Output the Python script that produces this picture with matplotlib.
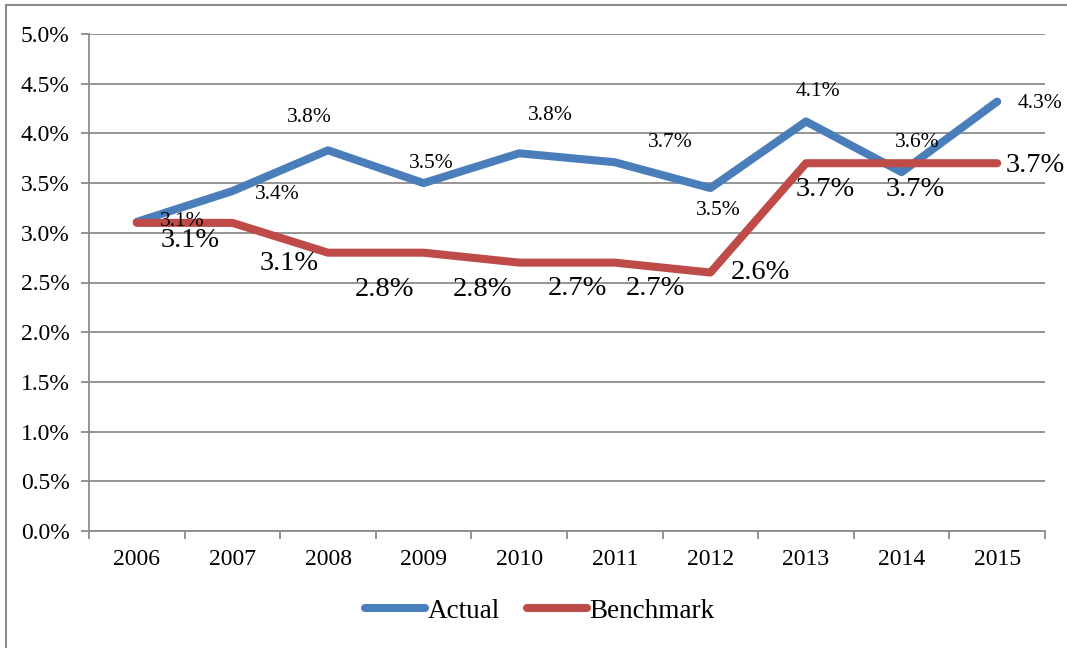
import matplotlib
matplotlib.use('Agg')
import matplotlib.pyplot as plt
from matplotlib.ticker import FuncFormatter, FixedLocator
from matplotlib.lines import Line2D
import numpy as np

years = ['2006', '2007', '2008', '2009', '2010', '2011', '2012', '2013', '2014', '2015']
actual = [3.11, 3.42, 3.83, 3.50, 3.80, 3.71, 3.45, 4.12, 3.61, 4.32]
benchmark = [3.1, 3.1, 2.8, 2.8, 2.7, 2.7, 2.6, 3.7, 3.7, 3.7]
actual_labels = ['3.1%', '3.4%', '3.8%', '3.5%', '3.8%', '3.7%', '3.5%', '4.1%', '3.6%', '4.3%']
bench_labels = ['3.1%', '3.1%', '2.8%', '2.8%', '2.7%', '2.7%', '2.6%', '3.7%', '3.7%', '3.7%']

# label offsets in pixels (dx, dy)
actual_off = [(45, 0), (45, -3), (-19, 33), (8, 20), (31, 38), (55, 20), (8, -22), (12, 30), (16, 30), (43, -2)]
bench_off = [(53, -18), (57, -41), (56, -37), (59, -37), (58, -26), (41, -26), (50, 0), (19, -26), (14, -26), (38, -2)]

plt.rcParams['font.family'] = ['Liberation Serif', 'DejaVu Serif']

blue = '#4a7ebb'
red = '#be4b48'
grid_c = '#8c8c8c'

fig = plt.figure(figsize=(10.67, 6.48), dpi=100)
ax = fig.add_axes([89 / 1067, 1 - 531 / 648, (1045 - 89) / 1067, (531 - 34) / 648])

x = np.arange(len(years))
ax.plot(x, actual, color=blue, linewidth=5.8, solid_capstyle='round', solid_joinstyle='round', label='Actual', zorder=3)
ax.plot(x, benchmark, color=red, linewidth=5.8, solid_capstyle='round', solid_joinstyle='round', label='Benchmark', zorder=3)

for i in range(len(years)):
    dx, dy = actual_off[i]
    ax.annotate(actual_labels[i], (x[i], actual[i]), xytext=(dx * 0.72, dy * 0.72),
                textcoords='offset points', ha='center', va='center', fontsize=15.5, zorder=4)
    dx, dy = bench_off[i]
    ax.annotate(bench_labels[i], (x[i], benchmark[i]), xytext=(dx * 0.72, dy * 0.72),
                textcoords='offset points', ha='center', va='center', fontsize=20.5, zorder=4)

ax.set_xlim(-0.5, len(years) - 0.5)
ax.set_ylim(0, 5.0)
ax.set_yticks(np.arange(0, 5.01, 0.5))
ax.yaxis.set_major_formatter(FuncFormatter(lambda v, p: f'{v:.1f}%'))
ax.yaxis.grid(True, color=grid_c, linewidth=1.3)
ax.set_axisbelow(True)

ax.set_xticks(x)
ax.set_xticklabels(years)
ax.xaxis.set_minor_locator(FixedLocator(np.arange(-0.5, len(years), 1.0)))
ax.tick_params(axis='x', which='major', length=0, pad=13, labelsize=17)
ax.tick_params(axis='x', which='minor', length=6, width=1.3, color=grid_c)
ax.tick_params(axis='y', length=6, width=1.3, color=grid_c, pad=8, labelsize=17)

for s in ['top', 'right']:
    ax.spines[s].set_visible(False)
for s in ['left', 'bottom']:
    ax.spines[s].set_color(grid_c)
    ax.spines[s].set_linewidth(1.3)

fig.legend(loc='center', bbox_to_anchor=(540 / 1067, 1 - 611 / 648), ncol=2, frameon=False,
           fontsize=19.5, handlelength=2.2, handletextpad=0.1, columnspacing=1.0)

# outer frame of the picture
fig.add_artist(Line2D([5.5 / 1067, 5.5 / 1067], [0, 1 - 4.5 / 648], transform=fig.transFigure, color=grid_c, linewidth=1.5))
fig.add_artist(Line2D([5.5 / 1067, 1], [1 - 4.5 / 648, 1 - 4.5 / 648], transform=fig.transFigure, color=grid_c, linewidth=1.5))

fig.savefig('out.png', dpi=100)
